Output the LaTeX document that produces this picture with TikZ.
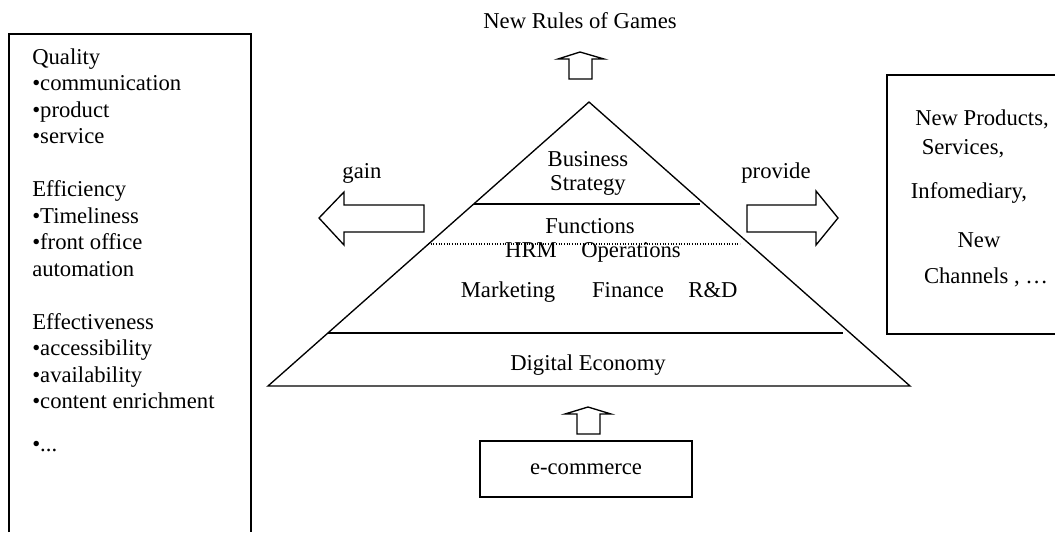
\documentclass[tikz,border=0pt]{standalone}
\usepackage{fontspec}
\setmainfont{Liberation Serif}
\tikzset{
  lbl/.style={inner sep=0pt, font=\fontsize{17}{19.9}\selectfont},
  frame/.style={black, line width=1.2pt},
  pyr/.style={black, line width=1pt},
  blockarrow/.style={black, line width=1pt, line join=miter},
}
\begin{document}
\begin{tikzpicture}[x=0.75pt,y=-0.75pt]
\useasboundingbox (0,0) rectangle (1055,532);
% left list
\draw [frame] (9,532) -- (9,34) -- (251,34) -- (251,532);
\node [lbl, anchor=north west, align=left] (qlist) at (32,48) {Quality\\
•communication\\ •product\\ •service\\[19.9pt]
Efficiency\\ •Timeliness\\ •front office\\ automation\\[19.9pt]
Effectiveness\\ •accessibility\\ •availability\\ •content enrichment\\[12pt]
•...};
% top
\node [lbl, anchor=base] (rules) at (580,28) {New Rules of Games};
\draw [blockarrow] (569,79) -- (569,59) -- (558,59) -- (580,52) -- (604,59) -- (592,59) -- (592,79) -- cycle;
% pyramid
\coordinate (apex) at (589,102);
\coordinate (bl) at (268,386);
\coordinate (br) at (910,386);
\draw [pyr] (apex) -- (bl) -- (br) -- cycle;
\draw [pyr] (474,204) -- (700,204);
\draw [black, line width=0.8pt, dash pattern=on 0.8pt off 1.2pt] (428,244) -- (740,244);
\draw [pyr] (328,333) -- (843,333);
\node [lbl, anchor=base, align=center, font=\fontsize{17}{18}\selectfont] (biz) at (588,190) {Business\\Strategy};
\node [lbl, anchor=base] (func) at (590,233) {Functions};
\node [lbl, anchor=base] (hrm) at (531,257) {HRM};
\node [lbl, anchor=base] (ops) at (631,257) {Operations};
\node [lbl, anchor=base] (mkt) at (508,297) {Marketing};
\node [lbl, anchor=base] (fin) at (628,297) {Finance};
\node [lbl, anchor=base] (rnd) at (713,297) {R\&D};
\node [lbl, anchor=base] (digi) at (588,370) {Digital Economy};
% side arrows
\node [lbl, anchor=base] (gain) at (362,178) {gain};
\draw [blockarrow] (424,205) -- (344,205) -- (344,192) -- (319,218) -- (344,245) -- (344,232) -- (424,232) -- cycle;
\node [lbl, anchor=base] (provide) at (776,178) {provide};
\draw [blockarrow] (747,205) -- (816,205) -- (816,191) -- (838,218) -- (816,245) -- (816,232) -- (747,232) -- cycle;
% right box
\draw [frame] (1055,75) -- (887,75) -- (887,334) -- (1055,334);
\node [lbl, anchor=base] (prod) at (982,125) {New Products,};
\node [lbl, anchor=base] (serv) at (963,154) {Services,};
\node [lbl, anchor=base] (info) at (969,198) {Infomediary,};
\node [lbl, anchor=base] (newc) at (979,247) {New};
\node [lbl, anchor=base] (chan) at (986,283) {Channels , \ldots};
% bottom
\draw [blockarrow] (577,434) -- (577,414) -- (565,414) -- (588,407) -- (611,414) -- (600,414) -- (600,434) -- cycle;
\node [lbl, draw, frame, minimum width=159pt, minimum height=42pt] (ecom) at (586,469) {e-commerce};
\end{tikzpicture}
\end{document}
